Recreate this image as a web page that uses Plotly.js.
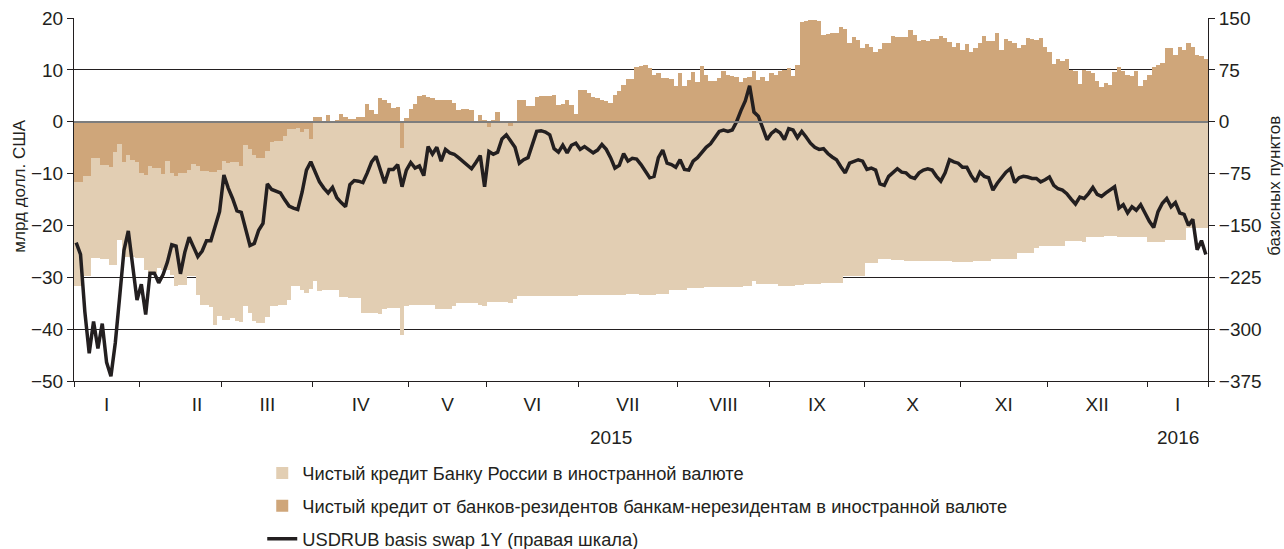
<!DOCTYPE html>
<html>
<head>
<meta charset="utf-8">
<script src="https://cdn.plot.ly/plotly-3.0.1.min.js"></script>
<style>
  html, body { margin: 0; padding: 0; background: #ffffff; }
  #chart { width: 1284px; height: 549px; }
</style>
</head>
<body>
<div id="chart"></div>
<script>
// ---- data (business days, Jan 2015 - Jan 2016) ----
// Net credit from resident banks to non-resident banks in FX, bn USD (dark bars)
const residentBanks = [
 -11.7,-11.7,-10.4,-10.4,-7.0,-7.0,-8.3,-8.3,-8.7,-5.9,-4.3,-7.7,-6.4,-7.3,-7.7,-9.9,-10.2,-8.6,-8.9,-8.9,
 -10.1,-7.5,-9.9,-10.4,-9.9,-9.9,-9.4,-8.1,-8.6,-9.5,-9.5,-9.7,-9.7,-9.3,-7.5,-8.0,-7.7,-7.7,-8.6,-4.4,
 -5.3,-6.5,-6.9,-6.9,-5.7,-4.0,-3.7,-3.7,-2.8,-1.5,-1.5,-1.2,-1.9,-1.4,-3.3,1.0,1.0,0.2,1.2,0.2,
 0.4,1.5,1.0,0.5,0.6,0.9,0.9,3.5,2.3,1.5,4.6,4.2,3.6,2.6,2.8,-5.1,0.7,2.4,3.5,5.0,
 5.2,4.8,4.6,4.2,4.2,4.2,4.1,3.7,2.3,2.4,2.4,2.3,-0.1,1.2,0.3,-1.0,0.4,1.8,0.0,0.0,
 -0.8,-0.1,4.1,4.1,3.1,3.1,4.8,5.0,5.0,5.0,5.2,3.3,3.4,4.1,3.3,1.5,6.2,6.1,5.5,4.8,
 4.6,4.2,3.9,3.6,5.2,5.9,7.1,8.3,8.3,10.5,10.7,11.0,10.4,9.1,9.4,8.4,8.4,8.3,6.9,9.3,
 6.9,8.1,9.5,7.6,10.8,9.1,7.8,7.8,8.4,9.7,9.1,8.9,8.7,7.6,8.4,8.7,9.7,8.1,8.7,7.8,
 9.3,9.1,9.7,10.0,10.4,8.9,11.0,19.2,19.5,19.7,19.7,19.5,16.8,17.0,17.1,17.2,18.3,17.9,15.2,16.3,
 15.7,14.2,14.9,14.4,13.4,14.0,15.2,15.2,16.5,16.3,16.3,16.3,17.6,16.7,15.6,15.8,15.5,15.9,15.9,16.5,
 16.1,15.4,14.4,15.2,13.9,14.9,13.4,14.2,15.2,16.5,15.6,15.6,17.2,13.9,16.0,15.6,15.2,14.2,14.7,16.1,
 15.9,15.8,16.1,14.5,13.4,11.2,12.1,11.8,12.1,10.0,9.7,7.3,10.0,9.7,9.4,7.8,6.7,7.5,7.1,9.6,
 10.5,9.7,9.1,8.9,9.7,6.9,8.0,9.1,10.5,11.0,11.3,14.3,14.2,12.9,14.5,13.9,15.2,14.5,12.9,12.6,
 12.0
];
// Net credit to the Bank of Russia in FX, bn USD (light bars)
const bankOfRussia = [
 -19.9,-19.9,-19.4,-19.4,-19.3,-19.3,-18.2,-18.2,-18.9,-21.7,-18.5,-18.3,-19.6,-18.7,-18.6,-16.4,-18.4,-20.5,-20.2,-19.3,
 -18.5,-21.1,-19.6,-21.2,-21.5,-21.5,-20.4,-21.7,-24.8,-25.8,-25.8,-26.1,-29.5,-28.1,-30.7,-30.2,-30.2,-30.8,-30.1,-31.2,
 -31.5,-32.0,-31.9,-31.9,-31.9,-31.6,-31.9,-31.6,-32.5,-32.8,-30.1,-30.4,-30.5,-31.7,-29.0,-30.8,-32.7,-32.5,-32.5,-32.5,
 -32.5,-33.8,-33.8,-34.0,-34.0,-34.0,-36.8,-36.8,-36.8,-36.8,-37.1,-36.1,-36.0,-36.0,-36.0,-36.0,-35.6,-35.4,-35.4,-35.4,
 -35.4,-35.4,-35.4,-36.1,-36.1,-36.1,-36.1,-35.6,-35.0,-35.0,-35.0,-35.0,-34.9,-35.3,-35.5,-33.7,-34.7,-34.7,-34.7,-34.8,
 -34.1,-34.1,-33.7,-33.7,-33.7,-33.6,-33.7,-33.7,-33.6,-33.6,-33.6,-33.6,-33.6,-33.6,-33.6,-33.6,-33.4,-33.4,-33.4,-33.4,
 -33.4,-33.4,-33.4,-33.4,-33.4,-33.4,-33.4,-33.3,-33.3,-33.3,-33.5,-33.5,-33.5,-33.5,-33.2,-33.2,-33.2,-32.4,-32.4,-32.4,
 -32.4,-32.1,-32.1,-32.1,-32.1,-31.9,-31.9,-31.9,-31.9,-31.9,-31.8,-31.8,-31.8,-31.8,-31.6,-31.6,-30.8,-31.3,-31.3,-31.3,
 -31.3,-31.3,-31.6,-31.6,-31.6,-31.6,-31.4,-31.4,-31.3,-31.3,-31.3,-31.3,-31.1,-31.1,-31.1,-31.1,-31.1,-29.8,-29.8,-29.8,
 -29.8,-29.8,-27.3,-27.3,-27.3,-26.5,-26.5,-26.5,-26.6,-26.6,-26.6,-26.8,-26.8,-26.8,-26.8,-26.8,-26.8,-26.8,-26.8,-26.8,
 -26.8,-26.8,-27.1,-27.1,-27.1,-27.1,-27.1,-26.8,-26.8,-26.8,-26.8,-26.5,-26.5,-26.5,-26.5,-26.5,-26.5,-25.3,-25.3,-25.3,
 -25.3,-24.4,-23.9,-23.9,-23.9,-23.9,-23.9,-23.9,-23.0,-23.0,-23.0,-23.0,-23.2,-22.3,-22.3,-22.3,-22.3,-22.1,-22.1,-22.1,
 -22.3,-22.3,-22.3,-22.3,-22.3,-22.3,-22.3,-23.2,-23.2,-23.2,-23.2,-22.8,-22.8,-22.8,-22.8,-22.8,-20.5,-20.5,-20.5,-20.5,
 -20.5
];
// USDRUB basis swap 1Y, basis points (right scale)
const basisSwap = [
 -175,-192,-275,-335,-289,-328,-292,-348,-368,-320,-254,-186,-158,-204,-258,-235,-279,-219,-219,-233,
 -221,-203,-178,-180,-220,-189,-167,-181,-195,-187,-172,-172,-151,-130,-77,-96,-111,-129,-131,-157,
 -179,-176,-157,-147,-90,-98,-101,-103,-113,-122,-125,-127,-102,-70,-58,-72,-87,-96,-103,-95,
 -110,-117,-123,-91,-85,-86,-88,-74,-58,-50,-68,-89,-69,-69,-62,-94,-70,-59,-67,-64,
 -78,-36,-47,-37,-57,-40,-45,-47,-52,-57,-63,-68,-59,-49,-94,-43,-47,-44,-25,-19,
 -28,-37,-60,-55,-52,-31,-14,-13,-15,-19,-39,-44,-34,-45,-34,-31,-40,-36,-41,-45,
 -41,-33,-40,-52,-67,-63,-46,-57,-53,-54,-62,-72,-81,-79,-52,-41,-60,-62,-66,-55,
 -69,-70,-57,-52,-45,-37,-32,-24,-14,-12,-14,-12,0,16,30,52,14,8,-10,-26,
 -17,-12,-16,-26,-10,-12,-23,-14,-22,-31,-37,-40,-39,-46,-51,-55,-65,-74,-60,-57,
 -55,-57,-69,-67,-70,-90,-92,-79,-73,-68,-73,-74,-80,-82,-74,-70,-68,-70,-79,-86,
 -74,-55,-58,-60,-66,-66,-78,-87,-73,-79,-81,-99,-89,-80,-73,-68,-88,-81,-79,-80,
 -82,-82,-87,-84,-80,-92,-97,-99,-104,-112,-119,-109,-111,-104,-95,-105,-108,-103,-98,-94,
 -125,-120,-132,-123,-128,-120,-132,-144,-153,-130,-118,-111,-123,-117,-132,-134,-150,-141,-185,-172,
 -192
];
// Month structure: index of the first business day of each month (last = total)
const monthStarts = [0, 15, 34, 55, 77, 95, 116, 139, 160, 182, 204, 224, 247, 261];
const monthNames = ['I','II','III','IV','V','VI','VII','VIII','IX','X','XI','XII','I'];
const yearNames = ['2015', '2016'];
const yearStarts = [0, 247, 261];

const seriesNames = [
  'Чистый кредит Банку России в иностранной валюте',
  'Чистый кредит от банков-резидентов банкам-нерезидентам в иностранной валюте',
  'USDRUB basis swap 1Y (правая шкала)'
];

// ---- build ----
const days = residentBanks.map((_, i) => i);
const boundaries = monthStarts.map(s => s - 0.5);
const labelPos = monthNames.map((_, i) => (monthStarts[i] + monthStarts[i + 1]) / 2 - 0.5);
labelPos[1] += 3.8; // label II sits right of centre in the original
const yearPos = yearNames.map((_, i) => (yearStarts[i] + yearStarts[i + 1]) / 2 - 0.5);

const FONT = 'Liberation Sans, Arial, sans-serif';
const INK = '#231f20';
const LIGHT = '#e2ceb3';
const DARK = '#cfa67a';

const traces = [
  {
    type: 'bar', x: days, y: residentBanks, name: seriesNames[1],
    marker: { color: DARK, line: { width: 0 } },
    legendgroup: 'b', legendrank: 2
  },
  {
    type: 'bar', x: days, y: bankOfRussia, name: seriesNames[0],
    marker: { color: LIGHT, line: { width: 0 } },
    legendgroup: 'a', legendrank: 1
  },
  {
    type: 'scatter', mode: 'lines', x: days, y: basisSwap, yaxis: 'y2', name: seriesNames[2],
    line: { color: INK, width: 3.5 },
    legendgroup: 'c', legendrank: 3
  }
];

const annotations = yearNames.map((t, i) => ({
  text: t, x: yearPos[i], xref: 'x', y: -0.157, yref: 'paper',
  xanchor: 'center', yanchor: 'middle', showarrow: false,
  font: { family: FONT, size: 19, color: INK }
}));
annotations.push({
  text: 'млрд долл. США', textangle: -90, x: -0.048, xref: 'paper', y: 0.537, yref: 'paper',
  xanchor: 'center', yanchor: 'middle', showarrow: false,
  font: { family: FONT, size: 17, color: INK }
});
annotations.push({
  text: 'базисных пунктов', textangle: -90, x: 1.058, xref: 'paper', y: 0.537, yref: 'paper',
  xanchor: 'center', yanchor: 'middle', showarrow: false,
  font: { family: FONT, size: 17, color: INK }
});

const layout = {
  width: 1284, height: 549,
  margin: { l: 74, r: 76, t: 18, b: 168, autoexpand: false },
  paper_bgcolor: '#ffffff', plot_bgcolor: '#ffffff',
  font: { family: FONT, color: INK, size: 19 },
  barmode: 'relative', bargap: 0,
  showlegend: true,
  legend: {
    x: 0.166, y: -0.203, xanchor: 'left', yanchor: 'top',
    traceorder: 'grouped', tracegroupgap: 6, itemwidth: 30,
    font: { family: FONT, size: 18.3, color: INK },
    bgcolor: 'rgba(0,0,0,0)'
  },
  xaxis: {
    range: [-0.5, 260.5], tickmode: 'array', tickvals: labelPos, ticktext: monthNames,
    ticks: '', showgrid: false, zeroline: false,
    showline: true, linecolor: INK, linewidth: 1,
    tickfont: { family: FONT, size: 19, color: INK },
    ticklabelstandoff: 6,
    minor: { tickmode: 'array', tickvals: boundaries, ticks: 'outside', ticklen: 5, tickwidth: 1, tickcolor: INK, showgrid: false }
  },
  yaxis: {
    range: [-50, 20], tickmode: 'linear', tick0: 0, dtick: 10,
    ticks: 'outside', ticklen: 6, tickwidth: 1, tickcolor: INK,
    showline: true, linecolor: INK, linewidth: 1,
    showgrid: true, gridcolor: INK, gridwidth: 1,
    zeroline: true, zerolinecolor: '#7d7d7d', zerolinewidth: 2, zerolinelayer: 'above traces',
    tickfont: { family: FONT, size: 19, color: INK }
  },
  yaxis2: {
    overlaying: 'y', side: 'right', anchor: 'x',
    range: [-375, 150], tickmode: 'linear', tick0: 0, dtick: 75,
    ticks: 'outside', ticklen: 6, tickwidth: 1, tickcolor: INK,
    showline: true, linecolor: INK, linewidth: 1,
    showgrid: false, zeroline: false,
    tickfont: { family: FONT, size: 19, color: INK }
  },
  annotations: annotations
};

Plotly.newPlot('chart', traces, layout, { staticPlot: true, displayModeBar: false });
</script>
</body>
</html>
